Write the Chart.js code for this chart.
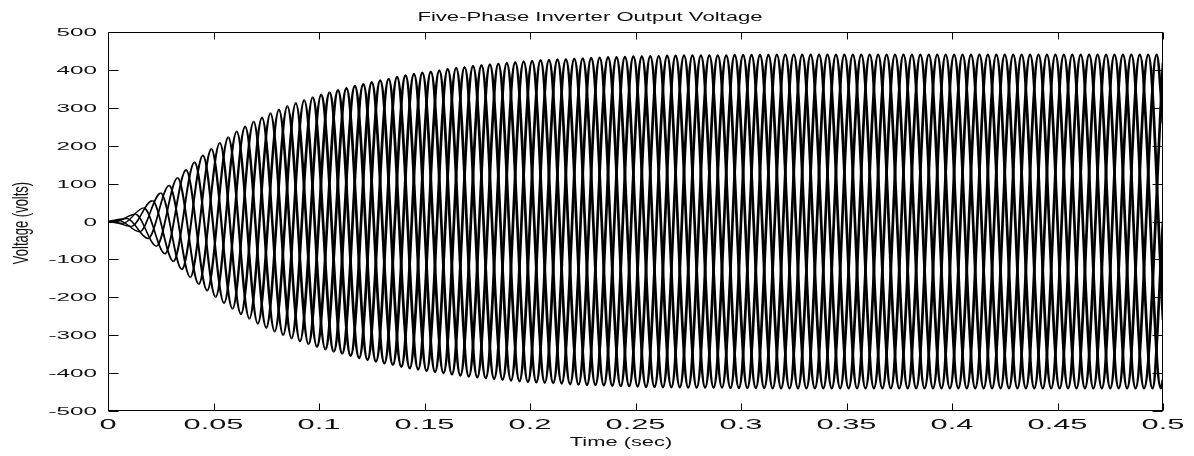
<!DOCTYPE html>
<html>
<head>
<meta charset="utf-8">
<title>Five-Phase Inverter Output Voltage</title>
<script src="https://cdn.jsdelivr.net/npm/chart.js@4.4.1/dist/chart.umd.min.js"></script>
<style>
  html, body { margin: 0; padding: 0; background: #fff; }
  canvas { display: block; }
</style>
</head>
<body>
<canvas id="chart" width="1194" height="456"></canvas>
<script>
// five phase voltages, 50 Hz, one extreme every 2 ms across the phases
const phaseLabels = ['Va', 'Vb', 'Vc', 'Vd', 'Ve'];
const firstPeakTime = 0.001;   // sec
const peakSpacing = 0.002;     // sec between successive extremes
const peakPhase = [4, 2, 0, 3, 1]; // which phase peaks in each slot (repeats)

// peak voltages, one row per 20 ms cycle
const peakVolts = [
  0, -1, 3, -5, 8, -13, 19, -27, 36, -45,
  55, -65, 75, -85, 95, -105, 115, -126, 136, -147,
  156, -165, 174, -182, 191, -199, 207, -215, 222, -230,
  237, -244, 250, -256, 263, -269, 274, -280, 285, -290,
  295, -299, 304, -308, 312, -316, 320, -323, 327, -330,
  334, -337, 340, -343, 346, -348, 351, -354, 357, -360,
  362, -365, 367, -369, 372, -374, 376, -378, 381, -383,
  385, -387, 389, -390, 392, -394, 395, -397, 398, -400,
  402, -403, 405, -406, 407, -409, 410, -411, 412, -413,
  414, -415, 416, -417, 418, -419, 420, -421, 422, -423,
  423, -424, 425, -425, 426, -426, 427, -427, 428, -429,
  429, -430, 430, -431, 431, -431, 432, -432, 433, -433,
  433, -434, 434, -434, 435, -435, 435, -436, 436, -436,
  436, -437, 437, -437, 437, -437, 438, -438, 438, -438,
  438, -438, 438, -438, 438, -438, 438, -439, 439, -439,
  439, -439, 439, -439, 439, -439, 439, -440, 440, -440,
  440, -440, 440, -440, 440, -440, 440, -440, 440, -440,
  440, -440, 440, -440, 440, -440, 440, -440, 440, -440,
  440, -440, 440, -440, 440, -440, 440, -440, 440, -440,
  440, -440, 440, -440, 440, -440, 440, -440, 440, -440,
  440, -440, 440, -440, 440, -440, 440, -440, 440, -440,
  440, -440, 440, -440, 440, -440, 440, -440, 440, -440,
  440, -440, 440, -440, 440, -440, 440, -440, 440, -440,
  440, -440, 440, -440, 440, -440, 440, -440, 440, -440,
  440, -440, 440, -440, 440, -440, 440, -440, 440, -440
];
const startVolts = [0, 0, 0, 0, 0];
const endVolts = [0, -418, -259, 259, 418]; // value of each phase at t = 0.5

const timeTicks = [0, 0.05, 0.1, 0.15, 0.2, 0.25, 0.3, 0.35, 0.4, 0.45, 0.5];
const voltTicks = [-500, -400, -300, -200, -100, 0, 100, 200, 300, 400, 500];

const titleText = 'Five-Phase Inverter Output Voltage';
const xTitle = 'Time (sec)';
const yTitle = 'Voltage (volts)';

// the swing is steep once the amplitude is up, and the traces pile up there
function segWidth(c) {
  const big = Math.max(Math.abs(c.p0.parsed.y), Math.abs(c.p1.parsed.y));
  return 1.3 + 1.4 * Math.min(1, big / 350);
}

const datasets = phaseLabels.map((name, k) => {
  const pts = [{ x: 0, y: startVolts[k] }];
  peakVolts.forEach((v, j) => {
    if (peakPhase[j % 5] === k) pts.push({ x: firstPeakTime + j * peakSpacing, y: v });
  });
  pts.push({ x: 0.5, y: endVolts[k] });
  return {
    label: name,
    data: pts,
    borderColor: '#000',
    borderWidth: 2.7,
    segment: { borderWidth: segWidth },
    pointRadius: 0,
    fill: false,
    cubicInterpolationMode: 'monotone'
  };
});

// matlab looking text is wider than normal, so draw it squeezed out sideways
function wideText(ctx, text, x, y, sx, align, baseline) {
  ctx.save();
  ctx.translate(x, y);
  ctx.scale(sx, 1);
  ctx.textAlign = align;
  ctx.textBaseline = baseline;
  ctx.fillText(text, 0, 0);
  ctx.restore();
}

const matlabFrame = {
  id: 'matlabFrame',
  afterDraw(chart) {
    const ctx = chart.ctx;
    const a = chart.chartArea;
    const xs = chart.scales.x, ys = chart.scales.y;
    const L = Math.round(a.left) + 0.5, R = Math.round(a.right) - 0.5;
    const T = Math.round(a.top) + 0.5, B = Math.round(a.bottom) - 0.5;

    ctx.save();
    ctx.strokeStyle = '#000';
    ctx.lineWidth = 1;
    ctx.strokeRect(L, T, R - L, B - T);

    // inward ticks on all four sides
    ctx.beginPath();
    xs.ticks.forEach(t => {
      const px = Math.round(xs.getPixelForValue(t.value)) + 0.5;
      ctx.moveTo(px, B); ctx.lineTo(px, B - 7);
      ctx.moveTo(px, T); ctx.lineTo(px, T + 7);
    });
    ys.ticks.forEach(t => {
      const py = Math.round(ys.getPixelForValue(t.value)) + 0.5;
      ctx.moveTo(L, py); ctx.lineTo(L + 10, py);
      ctx.moveTo(R, py); ctx.lineTo(R - 10, py);
    });
    ctx.stroke();

    ctx.fillStyle = '#111';
    ctx.font = '14px "Liberation Sans", Arial, sans-serif';
    xs.ticks.forEach(t => {
      wideText(ctx, String(t.value), xs.getPixelForValue(t.value), 429, 2.2, 'center', 'alphabetic');
    });
    ctx.font = '11px "Liberation Sans", Arial, sans-serif';
    ys.ticks.forEach(t => {
      wideText(ctx, String(t.value), 97, ys.getPixelForValue(t.value) + 1, 2.2, 'right', 'middle');
    });

    ctx.font = '13px "Liberation Sans", Arial, sans-serif';
    wideText(ctx, titleText, 590, 21, 1.7, 'center', 'alphabetic');
    ctx.font = '13px "Liberation Sans", Arial, sans-serif';
    wideText(ctx, xTitle, 621, 446, 1.68, 'center', 'alphabetic');

    ctx.save();
    ctx.translate(22, 223);
    ctx.rotate(-Math.PI / 2);
    ctx.scale(1, 1.7);
    ctx.textAlign = 'center';
    ctx.textBaseline = 'middle';
    ctx.fillText(yTitle, 0, 0);
    ctx.restore();

    ctx.restore();
  }
};

new Chart(document.getElementById('chart'), {
  type: 'line',
  data: { datasets },
  options: {
    responsive: false,
    animation: false,
    devicePixelRatio: 1,
    layout: { padding: { top: 32, right: 31, left: 0, bottom: 0 } },
    plugins: {
      legend: { display: false },
      title: { display: false },
      tooltip: { enabled: false }
    },
    scales: {
      x: {
        type: 'linear',
        min: 0,
        max: 0.5,
        afterBuildTicks: s => { s.ticks = timeTicks.map(v => ({ value: v })); },
        afterFit: s => { s.height = 45; },
        ticks: { display: false },
        grid: { display: false },
        border: { display: false }
      },
      y: {
        type: 'linear',
        min: -500,
        max: 500,
        afterBuildTicks: s => { s.ticks = voltTicks.map(v => ({ value: v })); },
        afterFit: s => { s.width = 108; },
        ticks: { display: false },
        grid: { display: false },
        border: { display: false }
      }
    }
  },
  plugins: [matlabFrame]
});
</script>
</body>
</html>
